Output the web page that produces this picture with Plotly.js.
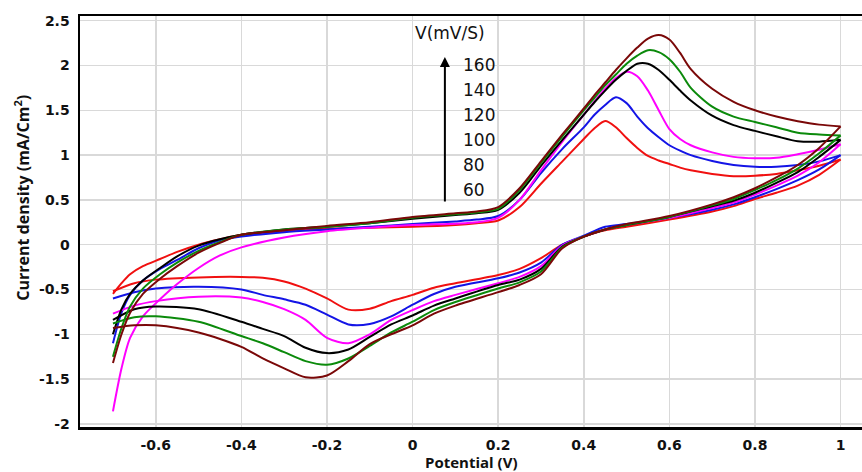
<!DOCTYPE html>
<html><head><meta charset="utf-8">
<script src="https://cdn.plot.ly/plotly-3.0.1.min.js"></script>
<style>html,body{margin:0;padding:0;background:#fff;overflow:hidden}</style>
</head><body><div id="chart" style="width:862px;height:472px"></div>
<script>
// Potential grids (V)
const forwardPotential = [-0.70, -0.68, -0.66, -0.63, -0.59, -0.55, -0.5, -0.45, -0.4, -0.3, -0.2, -0.1, 0, 0.1, 0.15, 0.2, 0.25, 0.3, 0.35, 0.4, 0.425, 0.45, 0.475, 0.5, 0.525, 0.55, 0.575, 0.6, 0.625, 0.65, 0.7, 0.75, 0.8, 0.85, 0.9, 0.95, 1.0];
const reversePotential = [1.0, 0.95, 0.9, 0.85, 0.8, 0.75, 0.7, 0.6, 0.5, 0.45, 0.4, 0.35, 0.3, 0.25, 0.2, 0.1, 0.05, 0.0, -0.05, -0.1, -0.15, -0.2, -0.25, -0.3, -0.35, -0.4, -0.5, -0.6, -0.65, -0.7];

// Current density (mA/cm2), forward (anodic) scans
const fwd60  = [-0.55, -0.43, -0.33, -0.24, -0.16, -0.08, 0.0, 0.06, 0.11, 0.15, 0.18, 0.19, 0.2, 0.22, 0.24, 0.27, 0.42, 0.68, 0.93, 1.18, 1.30, 1.38, 1.31, 1.19, 1.08, 0.99, 0.94, 0.9, 0.86, 0.83, 0.79, 0.765, 0.77, 0.79, 0.83, 0.88, 0.95];
const fwd80  = [-1.1, -0.76, -0.56, -0.40, -0.27, -0.17, -0.04, 0.05, 0.09, 0.14, 0.17, 0.2, 0.23, 0.26, 0.28, 0.32, 0.5, 0.8, 1.07, 1.31, 1.45, 1.56, 1.645, 1.58, 1.43, 1.30, 1.20, 1.11, 1.05, 1.0, 0.935, 0.89, 0.87, 0.87, 0.89, 0.93, 1.0];
const fwd100 = [-1.86, -1.38, -1.04, -0.80, -0.61, -0.44, -0.26, -0.12, -0.03, 0.08, 0.15, 0.19, 0.22, 0.235, 0.25, 0.30, 0.5, 0.83, 1.15, 1.45, 1.6, 1.74, 1.86, 1.93, 1.88, 1.72, 1.50, 1.29, 1.18, 1.11, 1.03, 0.98, 0.965, 0.97, 1.01, 1.06, 1.12];
const fwd120 = [-1.0, -0.72, -0.55, -0.40, -0.26, -0.13, -0.01, 0.06, 0.11, 0.17, 0.2, 0.24, 0.29, 0.33, 0.35, 0.39, 0.58, 0.88, 1.17, 1.45, 1.59, 1.72, 1.84, 1.94, 2.02, 2.02, 1.95, 1.84, 1.72, 1.61, 1.44, 1.335, 1.27, 1.21, 1.155, 1.15, 1.17];
const fwd140 = [-1.25, -0.93, -0.69, -0.49, -0.33, -0.2, -0.07, 0.03, 0.11, 0.17, 0.2, 0.24, 0.30, 0.34, 0.36, 0.40, 0.61, 0.91, 1.21, 1.50, 1.64, 1.78, 1.90, 2.02, 2.11, 2.17, 2.15, 2.07, 1.93, 1.75, 1.54, 1.43, 1.37, 1.31, 1.25, 1.23, 1.22];
const fwd160 = [-1.32, -1.0, -0.76, -0.55, -0.38, -0.24, -0.09, 0.02, 0.11, 0.16, 0.21, 0.25, 0.31, 0.35, 0.37, 0.42, 0.63, 0.93, 1.23, 1.52, 1.67, 1.81, 1.95, 2.08, 2.20, 2.30, 2.34, 2.29, 2.14, 1.96, 1.74, 1.595, 1.50, 1.43, 1.378, 1.34, 1.32];

// Current density (mA/cm2), reverse (cathodic) scans
const rev60  = [0.95, 0.78, 0.66, 0.58, 0.51, 0.43, 0.37, 0.28, 0.2, 0.16, 0.09, 0.0, -0.15, -0.27, -0.338, -0.43, -0.48, -0.56, -0.63, -0.715, -0.725, -0.6, -0.49, -0.41, -0.37, -0.36, -0.365, -0.39, -0.43, -0.52];
const rev80  = [1.0, 0.84, 0.72, 0.62, 0.53, 0.45, 0.39, 0.3, 0.23, 0.2, 0.1, 0.0, -0.2, -0.31, -0.375, -0.47, -0.55, -0.67, -0.8, -0.885, -0.89, -0.78, -0.67, -0.61, -0.56, -0.5, -0.47, -0.49, -0.53, -0.6];
const rev100 = [1.12, 0.92, 0.77, 0.66, 0.56, 0.47, 0.41, 0.3, 0.22, 0.17, 0.09, -0.01, -0.24, -0.36, -0.43, -0.56, -0.63, -0.73, -0.84, -1.0, -1.1, -1.04, -0.84, -0.72, -0.64, -0.59, -0.58, -0.63, -0.68, -0.77];
const rev120 = [1.17, 0.98, 0.81, 0.69, 0.58, 0.49, 0.43, 0.31, 0.22, 0.17, 0.09, -0.02, -0.27, -0.39, -0.45, -0.6, -0.68, -0.79, -0.89, -1.03, -1.17, -1.21, -1.15, -1.02, -0.94, -0.86, -0.72, -0.69, -0.72, -0.84];
const rev140 = [1.22, 1.02, 0.85, 0.72, 0.61, 0.51, 0.44, 0.31, 0.22, 0.17, 0.09, -0.03, -0.3, -0.42, -0.49, -0.64, -0.73, -0.86, -0.98, -1.13, -1.27, -1.34, -1.3, -1.2, -1.1, -1.02, -0.86, -0.8, -0.81, -0.88];
const rev160 = [1.32, 1.08, 0.89, 0.75, 0.63, 0.53, 0.45, 0.32, 0.23, 0.17, 0.09, -0.04, -0.33, -0.45, -0.53, -0.68, -0.77, -0.9, -1.0, -1.11, -1.3, -1.46, -1.48, -1.38, -1.27, -1.14, -0.98, -0.9, -0.9, -0.93];

const scanRates = ['60', '80', '100', '120', '140', '160'];
const seriesColors = ['#f01010', '#1414e6', '#ff00ff', '#000000', '#0b8a0b', '#7a0808'];

const xTickVals = [-0.6, -0.4, -0.2, 0, 0.2, 0.4, 0.6, 0.8, 1];
const xTickText = ['-0.6', '-0.4', '-0.2', '0', '0.2', '0.4', '0.6', '0.8', '1'];
const yTickVals = [-2, -1.5, -1, -0.5, 0, 0.5, 1, 1.5, 2, 2.5];
const yTickText = ['-2', '-1.5', '-1', '-0.5', '0', '0.5', '1', '1.5', '2', '2.5'];

const forwardSets = [fwd60, fwd80, fwd100, fwd120, fwd140, fwd160];
const reverseSets = [rev60, rev80, rev100, rev120, rev140, rev160];

const traces = [];
scanRates.forEach((rate, i) => {
  traces.push({x: forwardPotential, y: forwardSets[i], type: 'scatter', mode: 'lines', name: rate + ' mV/s',
    legendgroup: rate, showlegend: false, line: {color: seriesColors[i], width: 2, shape: 'spline', smoothing: 0.8}});
  traces.push({x: reversePotential, y: reverseSets[i], type: 'scatter', mode: 'lines', name: rate + ' mV/s',
    legendgroup: rate, showlegend: false, line: {color: seriesColors[i], width: 2, shape: 'spline', smoothing: 0.8}});
});

const tickFont = {family: 'DejaVu Sans', size: 14, color: '#111', weight: 'bold'};
const labelFont = {family: 'DejaVu Sans', size: 17, color: '#111'};
const titleFont = {family: 'Open Sans', size: 16, color: '#111', weight: 'bold'};
const xTitleFont = {family: 'Open Sans', size: 15, color: '#111', weight: 'bold'};

const annotations = [
  {xref: 'paper', yref: 'paper', x: -0.0742, y: 0.5578, text: 'Current density (mA/Cm<sup>2</sup>)', textangle: -90,
   showarrow: false, xanchor: 'center', yanchor: 'middle', font: titleFont},
  {xref: 'paper', yref: 'paper', x: 0.5, y: -0.0852, text: 'Potential (V)', showarrow: false,
   xanchor: 'center', yanchor: 'middle', borderpad: 0, font: xTitleFont},
  {x: 0.088, y: 2.363, xref: 'x', yref: 'y', text: 'V(mV/S)', showarrow: false, xanchor: 'center', yanchor: 'middle', font: labelFont},
  {x: 0.0755, y: 2.095, ax: 0.0755, ay: 0.465, xref: 'x', yref: 'y', axref: 'x', ayref: 'y', text: '', showarrow: true,
   arrowhead: 2, arrowsize: 1, arrowwidth: 2, arrowcolor: '#000'}
];
const labelsTopDown = scanRates.slice().reverse();
labelsTopDown.forEach((lbl, k) => {
  annotations.push({x: 0.113, y: 2.005 - k * 0.279, xref: 'x', yref: 'y', text: lbl, showarrow: false,
    xanchor: 'left', yanchor: 'middle', font: labelFont});
});

const layout = {
  width: 862, height: 472,
  margin: {l: 80, r: 0, t: 16, b: 45},
  paper_bgcolor: '#fff', plot_bgcolor: '#fff',
  showlegend: false,
  xaxis: {range: [-0.777, 1.050], tickvals: xTickVals, ticktext: xTickText, tickfont: tickFont,
    showgrid: true, gridcolor: '#d9d9d9', gridwidth: 1.5, zeroline: false,
    showline: true, linecolor: '#000', linewidth: 2.5, mirror: true,
    ticks: 'outside', ticklen: 4, tickcolor: 'rgba(0,0,0,0)'},
  yaxis: {range: [-2.035, 2.5525], tickvals: yTickVals, ticktext: yTickText, tickfont: tickFont,
    showgrid: true, gridcolor: '#d9d9d9', gridwidth: 1.5, zeroline: false,
    showline: true, linecolor: '#000', linewidth: 2.5, mirror: false,
    ticks: 'outside', ticklen: 5, tickcolor: 'rgba(0,0,0,0)'},
  annotations: annotations
};

Plotly.newPlot('chart', traces, layout, {displayModeBar: false, staticPlot: true});
</script></body></html>
